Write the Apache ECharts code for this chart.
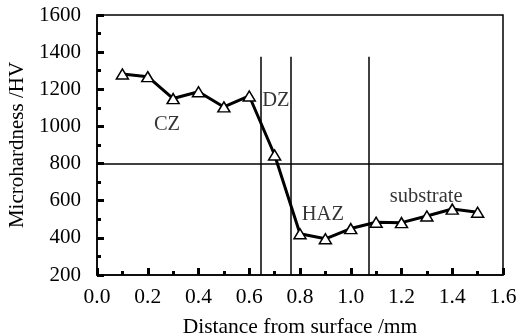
<!DOCTYPE html>
<html lang="en">
<head>
    <meta charset="UTF-8">
    <title>Microhardness</title>
    <script src="https://cdnjs.cloudflare.com/ajax/libs/echarts/6.0.0/echarts.min.js"></script>
    <style>
        html, body { margin: 0; padding: 0; background: #fff; }
        #chart { width: 523px; height: 336px; }
    </style>
</head>
<body>
    <div id="chart"></div>
    <script>
        // distance from surface (mm) and microhardness (HV)
        const distance = [0.1, 0.2, 0.3, 0.4, 0.5, 0.6, 0.7, 0.8, 0.9, 1.0, 1.1, 1.2, 1.3, 1.4, 1.5];
        const hardness = [1282, 1268, 1150, 1187, 1105, 1164, 846, 422, 395, 450, 484, 482, 518, 555, 538];

        // zone boundaries and reference level
        const zoneBounds = [0.646, 0.765, 1.072];
        const zoneTop = 1375;
        const refLevel = 800;

        // zone names with their anchor points
        const zoneNames = ['CZ', 'DZ', 'HAZ', 'substrate'];
        const zoneNameX = [0.276, 0.705, 0.89, 1.297];
        const zoneNameY = [1008, 1137, 523, 620];

        const font = 'Liberation Serif';
        const chart = echarts.init(document.getElementById('chart'));

        const option = {
            animation: false,
            grid: {
                left: 97, right: 20, top: 15, bottom: 61,
                outerBoundsMode: 'none',
                show: true, borderColor: '#000', borderWidth: 1.5
            },
            xAxis: {
                type: 'value',
                min: 0, max: 1.6, interval: 0.2,
                name: 'Distance from surface /mm',
                nameLocation: 'middle',
                nameGap: 41,
                nameTextStyle: { fontFamily: font, fontSize: 21.5, color: '#000' },
                axisLine: { lineStyle: { color: '#000', width: 1.5 } },
                axisTick: { inside: true, length: 7, lineStyle: { color: '#000', width: 3 } },
                minorTick: { show: true, splitNumber: 2, length: 4, lineStyle: { color: '#000', width: 3 } },
                axisLabel: {
                    fontFamily: font, fontSize: 21.5, color: '#000', margin: 11,
                    formatter: v => v.toFixed(1)
                },
                splitLine: { show: false }
            },
            yAxis: {
                type: 'value',
                min: 200, max: 1600, interval: 200,
                name: 'Microhardness /HV',
                nameLocation: 'middle',
                nameGap: 46,
                nameTextStyle: { fontFamily: font, fontSize: 21, color: '#000' },
                axisLine: { show: true, lineStyle: { color: '#000', width: 1.5 } },
                axisTick: { show: true, inside: true, length: 7, lineStyle: { color: '#000', width: 3 } },
                minorTick: { show: true, splitNumber: 2, length: 4, lineStyle: { color: '#000', width: 3 } },
                axisLabel: {
                    fontFamily: font, fontSize: 21, color: '#000', margin: 16,
                    formatter: v => String(v)
                },
                splitLine: { show: false }
            },
            series: [
                {
                    type: 'line',
                    data: distance.map((d, i) => [d, hardness[i]]),
                    symbol: 'triangle',
                    symbolSize: [12, 10],
                    lineStyle: { color: '#000', width: 3 },
                    itemStyle: { color: '#fff', borderColor: '#000', borderWidth: 1.5 },
                    z: 5,
                    markLine: {
                        silent: true,
                        symbol: 'none',
                        label: { show: false },
                        lineStyle: { color: '#000', width: 1.5, type: 'solid' },
                        data: zoneBounds.map(b => [{ coord: [b, 200] }, { coord: [b, zoneTop] }])
                            .concat([[{ coord: [0, refLevel] }, { coord: [1.6, refLevel] }]])
                    }
                },
                {
                    type: 'scatter',
                    data: zoneNames.map((n, i) => ({ value: [zoneNameX[i], zoneNameY[i]], name: n })),
                    symbolSize: 1,
                    itemStyle: { color: 'rgba(0,0,0,0)' },
                    label: {
                        show: true, position: 'inside',
                        formatter: p => p.name,
                        fontFamily: font, fontSize: 20.5, color: '#000'
                    },
                    z: 6
                }
            ]
        };
        chart.setOption(option);
    </script>
</body>
</html>
